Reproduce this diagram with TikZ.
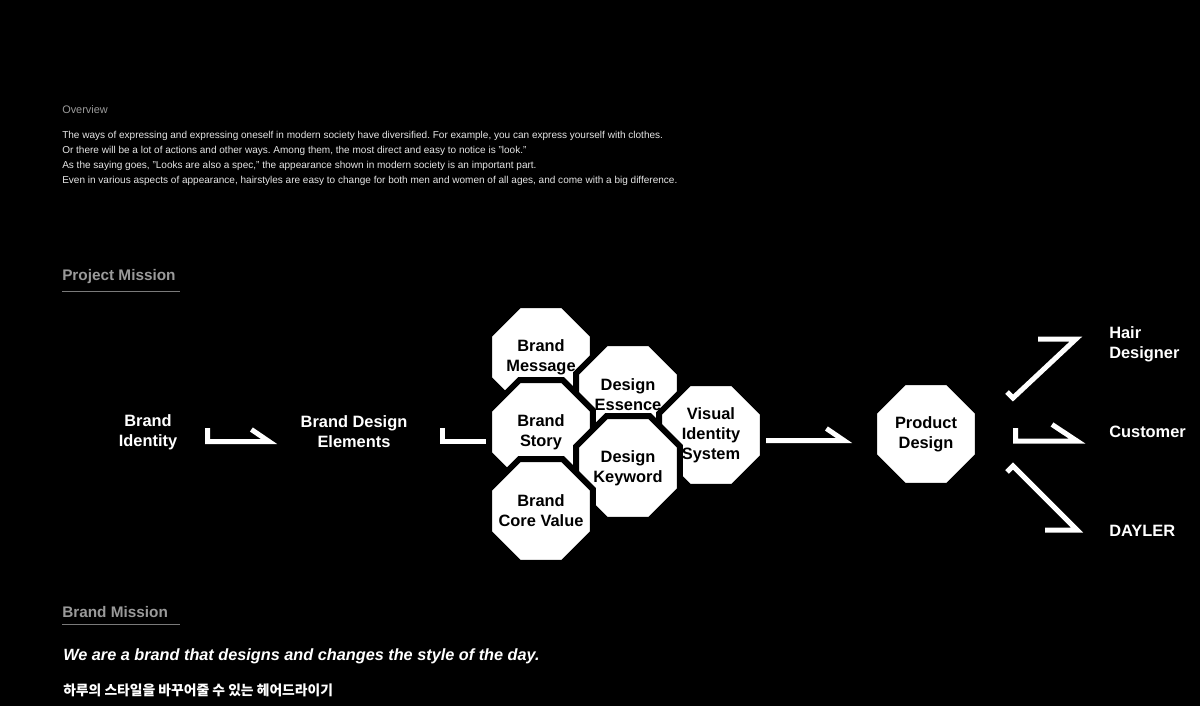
\documentclass[tikz,border=0pt]{standalone}
\usepackage{fontspec}
\setmainfont{Liberation Sans}
\newfontfamily\krfont{Noto Sans CJK KR}
\usetikzlibrary{shapes.geometric}
\pgfdeclarelayer{back}
\pgfsetlayers{back,main}
\frenchspacing

\definecolor{headgray}{HTML}{9A9A9A}
\definecolor{rulegray}{HTML}{7A7A7A}
\definecolor{bodytext}{HTML}{E6E6E6}

\tikzset{
  lbl/.style={text=white, align=center, font=\bfseries\fontsize{12.3}{15}\selectfont, inner sep=0pt},
  octa/.style={regular polygon, regular polygon sides=8, minimum size=84.4pt, inner sep=-8pt,
    fill=white, draw=black, line width=4.5pt, align=center, text=black,
    font=\bfseries\fontsize{12.3}{15}\selectfont},
  heading/.style={anchor=base west, inner sep=0pt, text=headgray, font=\bfseries\fontsize{11.5}{14}\selectfont},
  hook/.style={draw=white, line width=3.75pt, line join=miter}
}

\begin{document}
\begin{tikzpicture}[x=0.75pt,y=-0.75pt]
  \begin{pgfonlayer}{back}
    \fill[black] (0,0) rectangle (1200,706);
  \end{pgfonlayer}

  % overview
  \node[anchor=base west, inner sep=0pt, text=headgray, font=\fontsize{8.2}{9}\selectfont] (ov) at (62,114) {Overview};
  \node[anchor=north west, inner sep=0pt, align=left, text=bodytext, font=\fontsize{7.52}{11.25}\selectfont] (ovtext) at (62,131)
    {The ways of expressing and expressing oneself in modern society have diversified. For example, you can express yourself with clothes.\\
     Or there will be a lot of actions and other ways. Among them, the most direct and easy to notice is "look."\\
     As the saying goes, "Looks are also a spec," the appearance shown in modern society is an important part.\\
     Even in various aspects of appearance, hairstyles are easy to change for both men and women of all ages, and come with a big difference.};

  % project mission
  \node[heading] (pm) at (62,281) {Project Mission};
  \draw[rulegray, line width=1.1pt] (62,291.5) -- (180,291.5);

  \node[lbl] (bi) at (148,432) {Brand\\Identity};
  \node[lbl] (bde) at (354,432) {Brand Design\\Elements};

  \node[octa] (bm) at (541,357) {Brand\\Message};
  \node[octa] (de) at (628,395) {Design\\Essence};
  \node[octa] (vis) at (711,435) {Visual\\Identity\\System};
  \node[octa] (bs) at (541,432) {Brand\\Story};
  \node[octa] (dk) at (628,468) {Design\\Keyword};
  \node[octa] (bcv) at (541,511) {Brand\\Core Value};

  \node[octa] (pd) at (926,434) {Product\\Design};

  \node[lbl, anchor=west, align=left] (hd) at (1109,344) {Hair\\Designer};
  \node[lbl, anchor=west] (cu) at (1109,432) {Customer};
  \node[lbl, anchor=west] (dy) at (1109,531) {DAYLER};

  % hooks
  \coordinate (h1a) at (207.5,428);
  \coordinate (h1b) at (269,441.5);
  \coordinate (h2a) at (442.5,428);
  \coordinate (h2b) at (495,441.5);
  \coordinate (h3a) at (764,440.5);
  \coordinate (h3b) at (844,440.5);
  \coordinate (h4a) at (1007,392);
  \coordinate (h4b) at (1013,398);
  \coordinate (h4c) at (1076,339);
  \coordinate (h5a) at (1015.5,428);
  \coordinate (h5b) at (1077,441);
  \coordinate (h6a) at (1007,472);
  \coordinate (h6b) at (1013,466);
  \coordinate (h6c) at (1077,530);
  \begin{pgfonlayer}{back}
    \draw[hook] (h1a) |- (h1b) -- ++(-17.6,-12);
    \draw[hook] (h2a) |- (h2b);
    \draw[hook] (h3a) -- (h3b) -- ++(-17.6,-12);
    \draw[hook] (h4a) -- (h4b) -- (h4c) -- ++(-38,0);
    \draw[hook] (h5a) |- (h5b) -- ++(-25,-16.5);
    \draw[hook] (h6a) -- (h6b) -- (h6c) -- ++(-32,0);
  \end{pgfonlayer}

  % brand mission
  \node[heading] (bmis) at (62,617) {Brand Mission};
  \draw[rulegray, line width=1.1pt] (62,624.5) -- (180,624.5);
  \node[anchor=base west, inner sep=0pt, text=white, font=\bfseries\itshape\fontsize{12.2}{14}\selectfont] (slogan) at (63,660)
    {We are a brand that designs and changes the style of the day.};
  \node[anchor=base west, inner sep=0pt, text=white, font=\krfont\bfseries\fontsize{10.35}{12}\selectfont] (kr) at (63,695.5)
    {하루의 스타일을 바꾸어줄 수 있는 헤어드라이기};
\end{tikzpicture}
\end{document}
